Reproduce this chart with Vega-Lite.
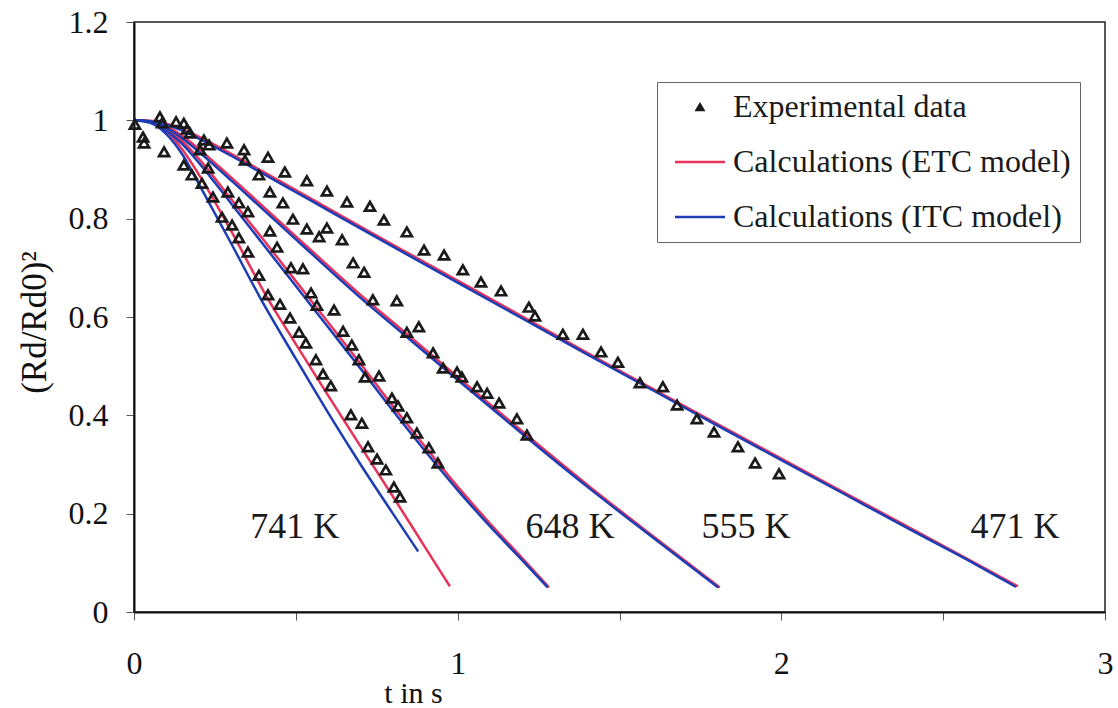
{
  "$schema": "https://vega.github.io/schema/vega-lite/v6.json",
  "width": 971,
  "height": 590,
  "autosize": "none",
  "padding": {"left": 134, "top": 22, "right": 13, "bottom": 96},
  "background": "white",
  "config": {
    "font": "Liberation Serif",
    "view": {"stroke": "#222", "strokeWidth": 1.5},
    "axis": {"grid": false, "domainColor": "#111", "domainWidth": 2, "tickColor": "#555", "tickSize": 8, "labelColor": "#111", "labelFontSize": 32, "labelFont": "Liberation Serif", "titleFont": "Liberation Serif", "titleFontWeight": "normal", "titleColor": "#111", "titleFontSize": 30}
  },
  "datasets": {
    "experiment": [
      {"t": 0.003, "y": 0.992}, {"t": 0.028, "y": 0.966}, {"t": 0.031, "y": 0.954}, {"t": 0.080, "y": 1.007},
      {"t": 0.087, "y": 0.995}, {"t": 0.093, "y": 0.936}, {"t": 0.130, "y": 0.997}, {"t": 0.154, "y": 0.994},
      {"t": 0.164, "y": 0.982}, {"t": 0.173, "y": 0.974}, {"t": 0.154, "y": 0.909}, {"t": 0.179, "y": 0.889},
      {"t": 0.204, "y": 0.940}, {"t": 0.216, "y": 0.960}, {"t": 0.232, "y": 0.950}, {"t": 0.229, "y": 0.903},
      {"t": 0.343, "y": 0.919},
      {"t": 0.287, "y": 0.954}, {"t": 0.340, "y": 0.940}, {"t": 0.414, "y": 0.925}, {"t": 0.466, "y": 0.895},
      {"t": 0.534, "y": 0.877}, {"t": 0.596, "y": 0.856}, {"t": 0.658, "y": 0.834}, {"t": 0.729, "y": 0.825},
      {"t": 0.772, "y": 0.797}, {"t": 0.843, "y": 0.773}, {"t": 0.896, "y": 0.736}, {"t": 0.958, "y": 0.726},
      {"t": 1.016, "y": 0.696}, {"t": 1.072, "y": 0.671}, {"t": 1.134, "y": 0.653}, {"t": 1.220, "y": 0.620},
      {"t": 1.239, "y": 0.602}, {"t": 1.325, "y": 0.565}, {"t": 1.387, "y": 0.565}, {"t": 1.443, "y": 0.529},
      {"t": 1.495, "y": 0.508}, {"t": 1.563, "y": 0.466}, {"t": 1.634, "y": 0.458}, {"t": 1.678, "y": 0.421},
      {"t": 1.739, "y": 0.393}, {"t": 1.792, "y": 0.366}, {"t": 1.866, "y": 0.336}, {"t": 1.919, "y": 0.303},
      {"t": 1.993, "y": 0.281},
      {"t": 0.386, "y": 0.889}, {"t": 0.420, "y": 0.854}, {"t": 0.460, "y": 0.832}, {"t": 0.491, "y": 0.799},
      {"t": 0.534, "y": 0.779}, {"t": 0.596, "y": 0.781}, {"t": 0.572, "y": 0.763}, {"t": 0.643, "y": 0.757},
      {"t": 0.677, "y": 0.710}, {"t": 0.711, "y": 0.691}, {"t": 0.738, "y": 0.635}, {"t": 0.812, "y": 0.633},
      {"t": 0.843, "y": 0.569}, {"t": 0.880, "y": 0.580}, {"t": 0.924, "y": 0.527}, {"t": 0.955, "y": 0.496},
      {"t": 0.998, "y": 0.488}, {"t": 1.013, "y": 0.478}, {"t": 1.060, "y": 0.458}, {"t": 1.091, "y": 0.445},
      {"t": 1.128, "y": 0.425}, {"t": 1.183, "y": 0.393}, {"t": 1.214, "y": 0.360},
      {"t": 0.290, "y": 0.854}, {"t": 0.324, "y": 0.832}, {"t": 0.352, "y": 0.814}, {"t": 0.420, "y": 0.775},
      {"t": 0.442, "y": 0.742}, {"t": 0.485, "y": 0.700}, {"t": 0.522, "y": 0.698}, {"t": 0.547, "y": 0.649},
      {"t": 0.565, "y": 0.624}, {"t": 0.618, "y": 0.614}, {"t": 0.646, "y": 0.571}, {"t": 0.673, "y": 0.543},
      {"t": 0.695, "y": 0.513}, {"t": 0.714, "y": 0.478}, {"t": 0.757, "y": 0.480}, {"t": 0.797, "y": 0.435},
      {"t": 0.816, "y": 0.419}, {"t": 0.843, "y": 0.395}, {"t": 0.874, "y": 0.364}, {"t": 0.911, "y": 0.334},
      {"t": 0.939, "y": 0.303},
      {"t": 0.210, "y": 0.872}, {"t": 0.244, "y": 0.844}, {"t": 0.272, "y": 0.803}, {"t": 0.303, "y": 0.787},
      {"t": 0.324, "y": 0.761}, {"t": 0.352, "y": 0.732}, {"t": 0.386, "y": 0.685}, {"t": 0.414, "y": 0.645},
      {"t": 0.451, "y": 0.626}, {"t": 0.482, "y": 0.598}, {"t": 0.510, "y": 0.569}, {"t": 0.531, "y": 0.547},
      {"t": 0.562, "y": 0.513}, {"t": 0.584, "y": 0.484}, {"t": 0.608, "y": 0.460}, {"t": 0.670, "y": 0.401},
      {"t": 0.704, "y": 0.384}, {"t": 0.723, "y": 0.336}, {"t": 0.751, "y": 0.311}, {"t": 0.778, "y": 0.289},
      {"t": 0.803, "y": 0.254}, {"t": 0.822, "y": 0.234}
    ],
    "models": [
      {"model": "Calculations (ETC model)", "temp": "471 K", "t": 0, "y": 1.0},
      {"model": "Calculations (ETC model)", "temp": "471 K", "t": 0.05, "y": 0.999},
      {"model": "Calculations (ETC model)", "temp": "471 K", "t": 0.1, "y": 0.993},
      {"model": "Calculations (ETC model)", "temp": "471 K", "t": 0.15, "y": 0.982},
      {"model": "Calculations (ETC model)", "temp": "471 K", "t": 0.2, "y": 0.967},
      {"model": "Calculations (ETC model)", "temp": "471 K", "t": 0.3, "y": 0.932},
      {"model": "Calculations (ETC model)", "temp": "471 K", "t": 0.4, "y": 0.895},
      {"model": "Calculations (ETC model)", "temp": "471 K", "t": 0.5, "y": 0.858},
      {"model": "Calculations (ETC model)", "temp": "471 K", "t": 0.6, "y": 0.821},
      {"model": "Calculations (ETC model)", "temp": "471 K", "t": 0.8, "y": 0.747},
      {"model": "Calculations (ETC model)", "temp": "471 K", "t": 1.0, "y": 0.674},
      {"model": "Calculations (ETC model)", "temp": "471 K", "t": 1.2, "y": 0.601},
      {"model": "Calculations (ETC model)", "temp": "471 K", "t": 1.4, "y": 0.527},
      {"model": "Calculations (ETC model)", "temp": "471 K", "t": 1.6, "y": 0.455},
      {"model": "Calculations (ETC model)", "temp": "471 K", "t": 1.8, "y": 0.383},
      {"model": "Calculations (ETC model)", "temp": "471 K", "t": 2.0, "y": 0.312},
      {"model": "Calculations (ETC model)", "temp": "471 K", "t": 2.2, "y": 0.241},
      {"model": "Calculations (ETC model)", "temp": "471 K", "t": 2.4, "y": 0.170},
      {"model": "Calculations (ETC model)", "temp": "471 K", "t": 2.6, "y": 0.099},
      {"model": "Calculations (ETC model)", "temp": "471 K", "t": 2.731, "y": 0.052},

      {"model": "Calculations (ETC model)", "temp": "555 K", "t": 0, "y": 1.0},
      {"model": "Calculations (ETC model)", "temp": "555 K", "t": 0.05, "y": 0.998},
      {"model": "Calculations (ETC model)", "temp": "555 K", "t": 0.1, "y": 0.988},
      {"model": "Calculations (ETC model)", "temp": "555 K", "t": 0.15, "y": 0.968},
      {"model": "Calculations (ETC model)", "temp": "555 K", "t": 0.2, "y": 0.942},
      {"model": "Calculations (ETC model)", "temp": "555 K", "t": 0.3, "y": 0.884},
      {"model": "Calculations (ETC model)", "temp": "555 K", "t": 0.4, "y": 0.824},
      {"model": "Calculations (ETC model)", "temp": "555 K", "t": 0.5, "y": 0.764},
      {"model": "Calculations (ETC model)", "temp": "555 K", "t": 0.6, "y": 0.704},
      {"model": "Calculations (ETC model)", "temp": "555 K", "t": 0.7, "y": 0.645},
      {"model": "Calculations (ETC model)", "temp": "555 K", "t": 0.822, "y": 0.577},
      {"model": "Calculations (ETC model)", "temp": "555 K", "t": 1.0, "y": 0.478},
      {"model": "Calculations (ETC model)", "temp": "555 K", "t": 1.2, "y": 0.367},
      {"model": "Calculations (ETC model)", "temp": "555 K", "t": 1.4, "y": 0.259},
      {"model": "Calculations (ETC model)", "temp": "555 K", "t": 1.6, "y": 0.156},
      {"model": "Calculations (ETC model)", "temp": "555 K", "t": 1.81, "y": 0.05},

      {"model": "Calculations (ETC model)", "temp": "648 K", "t": 0, "y": 1.0},
      {"model": "Calculations (ETC model)", "temp": "648 K", "t": 0.05, "y": 0.997},
      {"model": "Calculations (ETC model)", "temp": "648 K", "t": 0.1, "y": 0.983},
      {"model": "Calculations (ETC model)", "temp": "648 K", "t": 0.15, "y": 0.957},
      {"model": "Calculations (ETC model)", "temp": "648 K", "t": 0.2, "y": 0.922},
      {"model": "Calculations (ETC model)", "temp": "648 K", "t": 0.3, "y": 0.840},
      {"model": "Calculations (ETC model)", "temp": "648 K", "t": 0.4, "y": 0.757},
      {"model": "Calculations (ETC model)", "temp": "648 K", "t": 0.5, "y": 0.673},
      {"model": "Calculations (ETC model)", "temp": "648 K", "t": 0.6, "y": 0.589},
      {"model": "Calculations (ETC model)", "temp": "648 K", "t": 0.7, "y": 0.505},
      {"model": "Calculations (ETC model)", "temp": "648 K", "t": 0.822, "y": 0.400},
      {"model": "Calculations (ETC model)", "temp": "648 K", "t": 0.9, "y": 0.336},
      {"model": "Calculations (ETC model)", "temp": "648 K", "t": 1.0, "y": 0.255},
      {"model": "Calculations (ETC model)", "temp": "648 K", "t": 1.1, "y": 0.180},
      {"model": "Calculations (ETC model)", "temp": "648 K", "t": 1.2, "y": 0.109},
      {"model": "Calculations (ETC model)", "temp": "648 K", "t": 1.282, "y": 0.05},

      {"model": "Calculations (ETC model)", "temp": "741 K", "t": 0, "y": 1.0},
      {"model": "Calculations (ETC model)", "temp": "741 K", "t": 0.05, "y": 0.997},
      {"model": "Calculations (ETC model)", "temp": "741 K", "t": 0.1, "y": 0.978},
      {"model": "Calculations (ETC model)", "temp": "741 K", "t": 0.15, "y": 0.940},
      {"model": "Calculations (ETC model)", "temp": "741 K", "t": 0.2, "y": 0.890},
      {"model": "Calculations (ETC model)", "temp": "741 K", "t": 0.3, "y": 0.775},
      {"model": "Calculations (ETC model)", "temp": "741 K", "t": 0.411, "y": 0.640},
      {"model": "Calculations (ETC model)", "temp": "741 K", "t": 0.5, "y": 0.545},
      {"model": "Calculations (ETC model)", "temp": "741 K", "t": 0.6, "y": 0.440},
      {"model": "Calculations (ETC model)", "temp": "741 K", "t": 0.7, "y": 0.337},
      {"model": "Calculations (ETC model)", "temp": "741 K", "t": 0.8, "y": 0.235},
      {"model": "Calculations (ETC model)", "temp": "741 K", "t": 0.9, "y": 0.131},
      {"model": "Calculations (ETC model)", "temp": "741 K", "t": 0.976, "y": 0.052},

      {"model": "Calculations (ITC model)", "temp": "471 K", "t": 0, "y": 1.0},
      {"model": "Calculations (ITC model)", "temp": "471 K", "t": 0.05, "y": 0.998},
      {"model": "Calculations (ITC model)", "temp": "471 K", "t": 0.1, "y": 0.991},
      {"model": "Calculations (ITC model)", "temp": "471 K", "t": 0.15, "y": 0.979},
      {"model": "Calculations (ITC model)", "temp": "471 K", "t": 0.2, "y": 0.963},
      {"model": "Calculations (ITC model)", "temp": "471 K", "t": 0.3, "y": 0.928},
      {"model": "Calculations (ITC model)", "temp": "471 K", "t": 0.4, "y": 0.891},
      {"model": "Calculations (ITC model)", "temp": "471 K", "t": 0.5, "y": 0.854},
      {"model": "Calculations (ITC model)", "temp": "471 K", "t": 0.6, "y": 0.817},
      {"model": "Calculations (ITC model)", "temp": "471 K", "t": 0.8, "y": 0.743},
      {"model": "Calculations (ITC model)", "temp": "471 K", "t": 1.0, "y": 0.670},
      {"model": "Calculations (ITC model)", "temp": "471 K", "t": 1.2, "y": 0.597},
      {"model": "Calculations (ITC model)", "temp": "471 K", "t": 1.4, "y": 0.524},
      {"model": "Calculations (ITC model)", "temp": "471 K", "t": 1.6, "y": 0.452},
      {"model": "Calculations (ITC model)", "temp": "471 K", "t": 1.8, "y": 0.380},
      {"model": "Calculations (ITC model)", "temp": "471 K", "t": 2.0, "y": 0.309},
      {"model": "Calculations (ITC model)", "temp": "471 K", "t": 2.2, "y": 0.238},
      {"model": "Calculations (ITC model)", "temp": "471 K", "t": 2.4, "y": 0.167},
      {"model": "Calculations (ITC model)", "temp": "471 K", "t": 2.6, "y": 0.097},
      {"model": "Calculations (ITC model)", "temp": "471 K", "t": 2.725, "y": 0.051},

      {"model": "Calculations (ITC model)", "temp": "555 K", "t": 0, "y": 1.0},
      {"model": "Calculations (ITC model)", "temp": "555 K", "t": 0.05, "y": 0.997},
      {"model": "Calculations (ITC model)", "temp": "555 K", "t": 0.1, "y": 0.985},
      {"model": "Calculations (ITC model)", "temp": "555 K", "t": 0.15, "y": 0.963},
      {"model": "Calculations (ITC model)", "temp": "555 K", "t": 0.2, "y": 0.936},
      {"model": "Calculations (ITC model)", "temp": "555 K", "t": 0.3, "y": 0.878},
      {"model": "Calculations (ITC model)", "temp": "555 K", "t": 0.4, "y": 0.818},
      {"model": "Calculations (ITC model)", "temp": "555 K", "t": 0.5, "y": 0.758},
      {"model": "Calculations (ITC model)", "temp": "555 K", "t": 0.6, "y": 0.698},
      {"model": "Calculations (ITC model)", "temp": "555 K", "t": 0.7, "y": 0.639},
      {"model": "Calculations (ITC model)", "temp": "555 K", "t": 0.822, "y": 0.571},
      {"model": "Calculations (ITC model)", "temp": "555 K", "t": 1.0, "y": 0.472},
      {"model": "Calculations (ITC model)", "temp": "555 K", "t": 1.2, "y": 0.362},
      {"model": "Calculations (ITC model)", "temp": "555 K", "t": 1.4, "y": 0.255},
      {"model": "Calculations (ITC model)", "temp": "555 K", "t": 1.6, "y": 0.153},
      {"model": "Calculations (ITC model)", "temp": "555 K", "t": 1.805, "y": 0.05},

      {"model": "Calculations (ITC model)", "temp": "648 K", "t": 0, "y": 1.0},
      {"model": "Calculations (ITC model)", "temp": "648 K", "t": 0.05, "y": 0.996},
      {"model": "Calculations (ITC model)", "temp": "648 K", "t": 0.1, "y": 0.979},
      {"model": "Calculations (ITC model)", "temp": "648 K", "t": 0.15, "y": 0.951},
      {"model": "Calculations (ITC model)", "temp": "648 K", "t": 0.2, "y": 0.914},
      {"model": "Calculations (ITC model)", "temp": "648 K", "t": 0.3, "y": 0.831},
      {"model": "Calculations (ITC model)", "temp": "648 K", "t": 0.4, "y": 0.747},
      {"model": "Calculations (ITC model)", "temp": "648 K", "t": 0.5, "y": 0.663},
      {"model": "Calculations (ITC model)", "temp": "648 K", "t": 0.6, "y": 0.579},
      {"model": "Calculations (ITC model)", "temp": "648 K", "t": 0.7, "y": 0.495},
      {"model": "Calculations (ITC model)", "temp": "648 K", "t": 0.822, "y": 0.391},
      {"model": "Calculations (ITC model)", "temp": "648 K", "t": 0.9, "y": 0.327},
      {"model": "Calculations (ITC model)", "temp": "648 K", "t": 1.0, "y": 0.248},
      {"model": "Calculations (ITC model)", "temp": "648 K", "t": 1.1, "y": 0.174},
      {"model": "Calculations (ITC model)", "temp": "648 K", "t": 1.2, "y": 0.105},
      {"model": "Calculations (ITC model)", "temp": "648 K", "t": 1.278, "y": 0.05},

      {"model": "Calculations (ITC model)", "temp": "741 K", "t": 0, "y": 1.0},
      {"model": "Calculations (ITC model)", "temp": "741 K", "t": 0.05, "y": 0.995},
      {"model": "Calculations (ITC model)", "temp": "741 K", "t": 0.1, "y": 0.972},
      {"model": "Calculations (ITC model)", "temp": "741 K", "t": 0.15, "y": 0.930},
      {"model": "Calculations (ITC model)", "temp": "741 K", "t": 0.204, "y": 0.866},
      {"model": "Calculations (ITC model)", "temp": "741 K", "t": 0.3, "y": 0.750},
      {"model": "Calculations (ITC model)", "temp": "741 K", "t": 0.389, "y": 0.640},
      {"model": "Calculations (ITC model)", "temp": "741 K", "t": 0.5, "y": 0.515},
      {"model": "Calculations (ITC model)", "temp": "741 K", "t": 0.6, "y": 0.405},
      {"model": "Calculations (ITC model)", "temp": "741 K", "t": 0.7, "y": 0.300},
      {"model": "Calculations (ITC model)", "temp": "741 K", "t": 0.8, "y": 0.200},
      {"model": "Calculations (ITC model)", "temp": "741 K", "t": 0.878, "y": 0.123}
    ],
    "temperatures": [
      {"label": "741 K", "t": 0.497, "y": 0.173},
      {"label": "648 K", "t": 1.347, "y": 0.173},
      {"label": "555 K", "t": 1.891, "y": 0.173},
      {"label": "471 K", "t": 2.722, "y": 0.173}
    ]
  },
  "encoding": {
    "x": {
      "field": "t", "type": "quantitative",
      "scale": {"domain": [0, 3], "nice": false, "zero": true},
      "axis": {
        "values": [0, 0.5, 1, 1.5, 2, 2.5, 3],
        "format": "~g",
        "labelExpr": "datum.value % 1 === 0 ? datum.label : ''",
        "labelFlush": false,
        "labelOverlap": false,
        "labelPadding": 28,
        "title": "t  in s",
        "titleX": 279,
        "titleY": 90,
        "titleAlign": "center",
        "titleBaseline": "alphabetic"
      }
    },
    "y": {
      "field": "y", "type": "quantitative",
      "scale": {"domain": [0, 1.2], "nice": false},
      "axis": {
        "values": [0, 0.2, 0.4, 0.6, 0.8, 1, 1.2],
        "format": "~g",
        "labelFlush": false,
        "labelPadding": 18,
        "title": "(Rd/Rd0)²",
        "titleFontSize": 35,
        "titleX": -100,
        "titleY": 300,
        "titleAngle": 270,
        "titleAlign": "center",
        "titleBaseline": "middle"
      }
    }
  },
  "layer": [
    {
      "data": {"name": "models"},
      "mark": {"type": "line", "strokeWidth": 2.5, "interpolate": "monotone"},
      "encoding": {
        "color": {
          "field": "model", "type": "nominal",
          "scale": {
            "domain": ["Experimental data", "Calculations (ETC model)", "Calculations (ITC model)"],
            "range": ["#1a1a1a", "#e8325a", "#1d3db5"]
          },
          "legend": {
            "title": null,
            "orient": "none",
            "legendX": 523,
            "legendY": 60,
            "labelFont": "Liberation Serif",
            "labelFontSize": 32,
            "labelColor": "#1a1a1a",
            "labelLimit": 600,
            "labelOffset": 9,
            "symbolSize": 2500,
            "symbolStrokeWidth": 2.5,
            "rowPadding": 23,
            "padding": 9,
            "strokeColor": "#666",
            "fillColor": "white",
            "encode": {
              "symbols": {
                "update": {
                  "x": {"value": 34},
                  "shape": {"signal": "datum.value === 'Experimental data' ? 'triangle-up' : 'stroke'"},
                  "size": {"signal": "datum.value === 'Experimental data' ? 70 : 2500"},
                  "fill": {"signal": "datum.value === 'Experimental data' ? '#1a1a1a' : 'transparent'"},
                  "strokeWidth": {"signal": "datum.value === 'Experimental data' ? 1.5 : 2.5"}
                }
              },
              "labels": {
                "update": {
                  "x": {"value": 67}
                }
              }
            }
          }
        },
        "detail": {"field": "temp"},
        "order": {"field": "t"}
      }
    },
    {
      "data": {"name": "experiment"},
      "mark": {"type": "point", "shape": "triangle-up", "filled": false, "size": 100, "strokeWidth": 2.7, "opacity": 1},
      "encoding": {
        "color": {"datum": "Experimental data"}
      }
    },
    {
      "data": {"name": "temperatures"},
      "mark": {"type": "text", "font": "Liberation Serif", "fontSize": 36, "color": "#1a1a1a", "align": "center", "baseline": "middle"},
      "encoding": {
        "text": {"field": "label"}
      }
    }
  ]
}
